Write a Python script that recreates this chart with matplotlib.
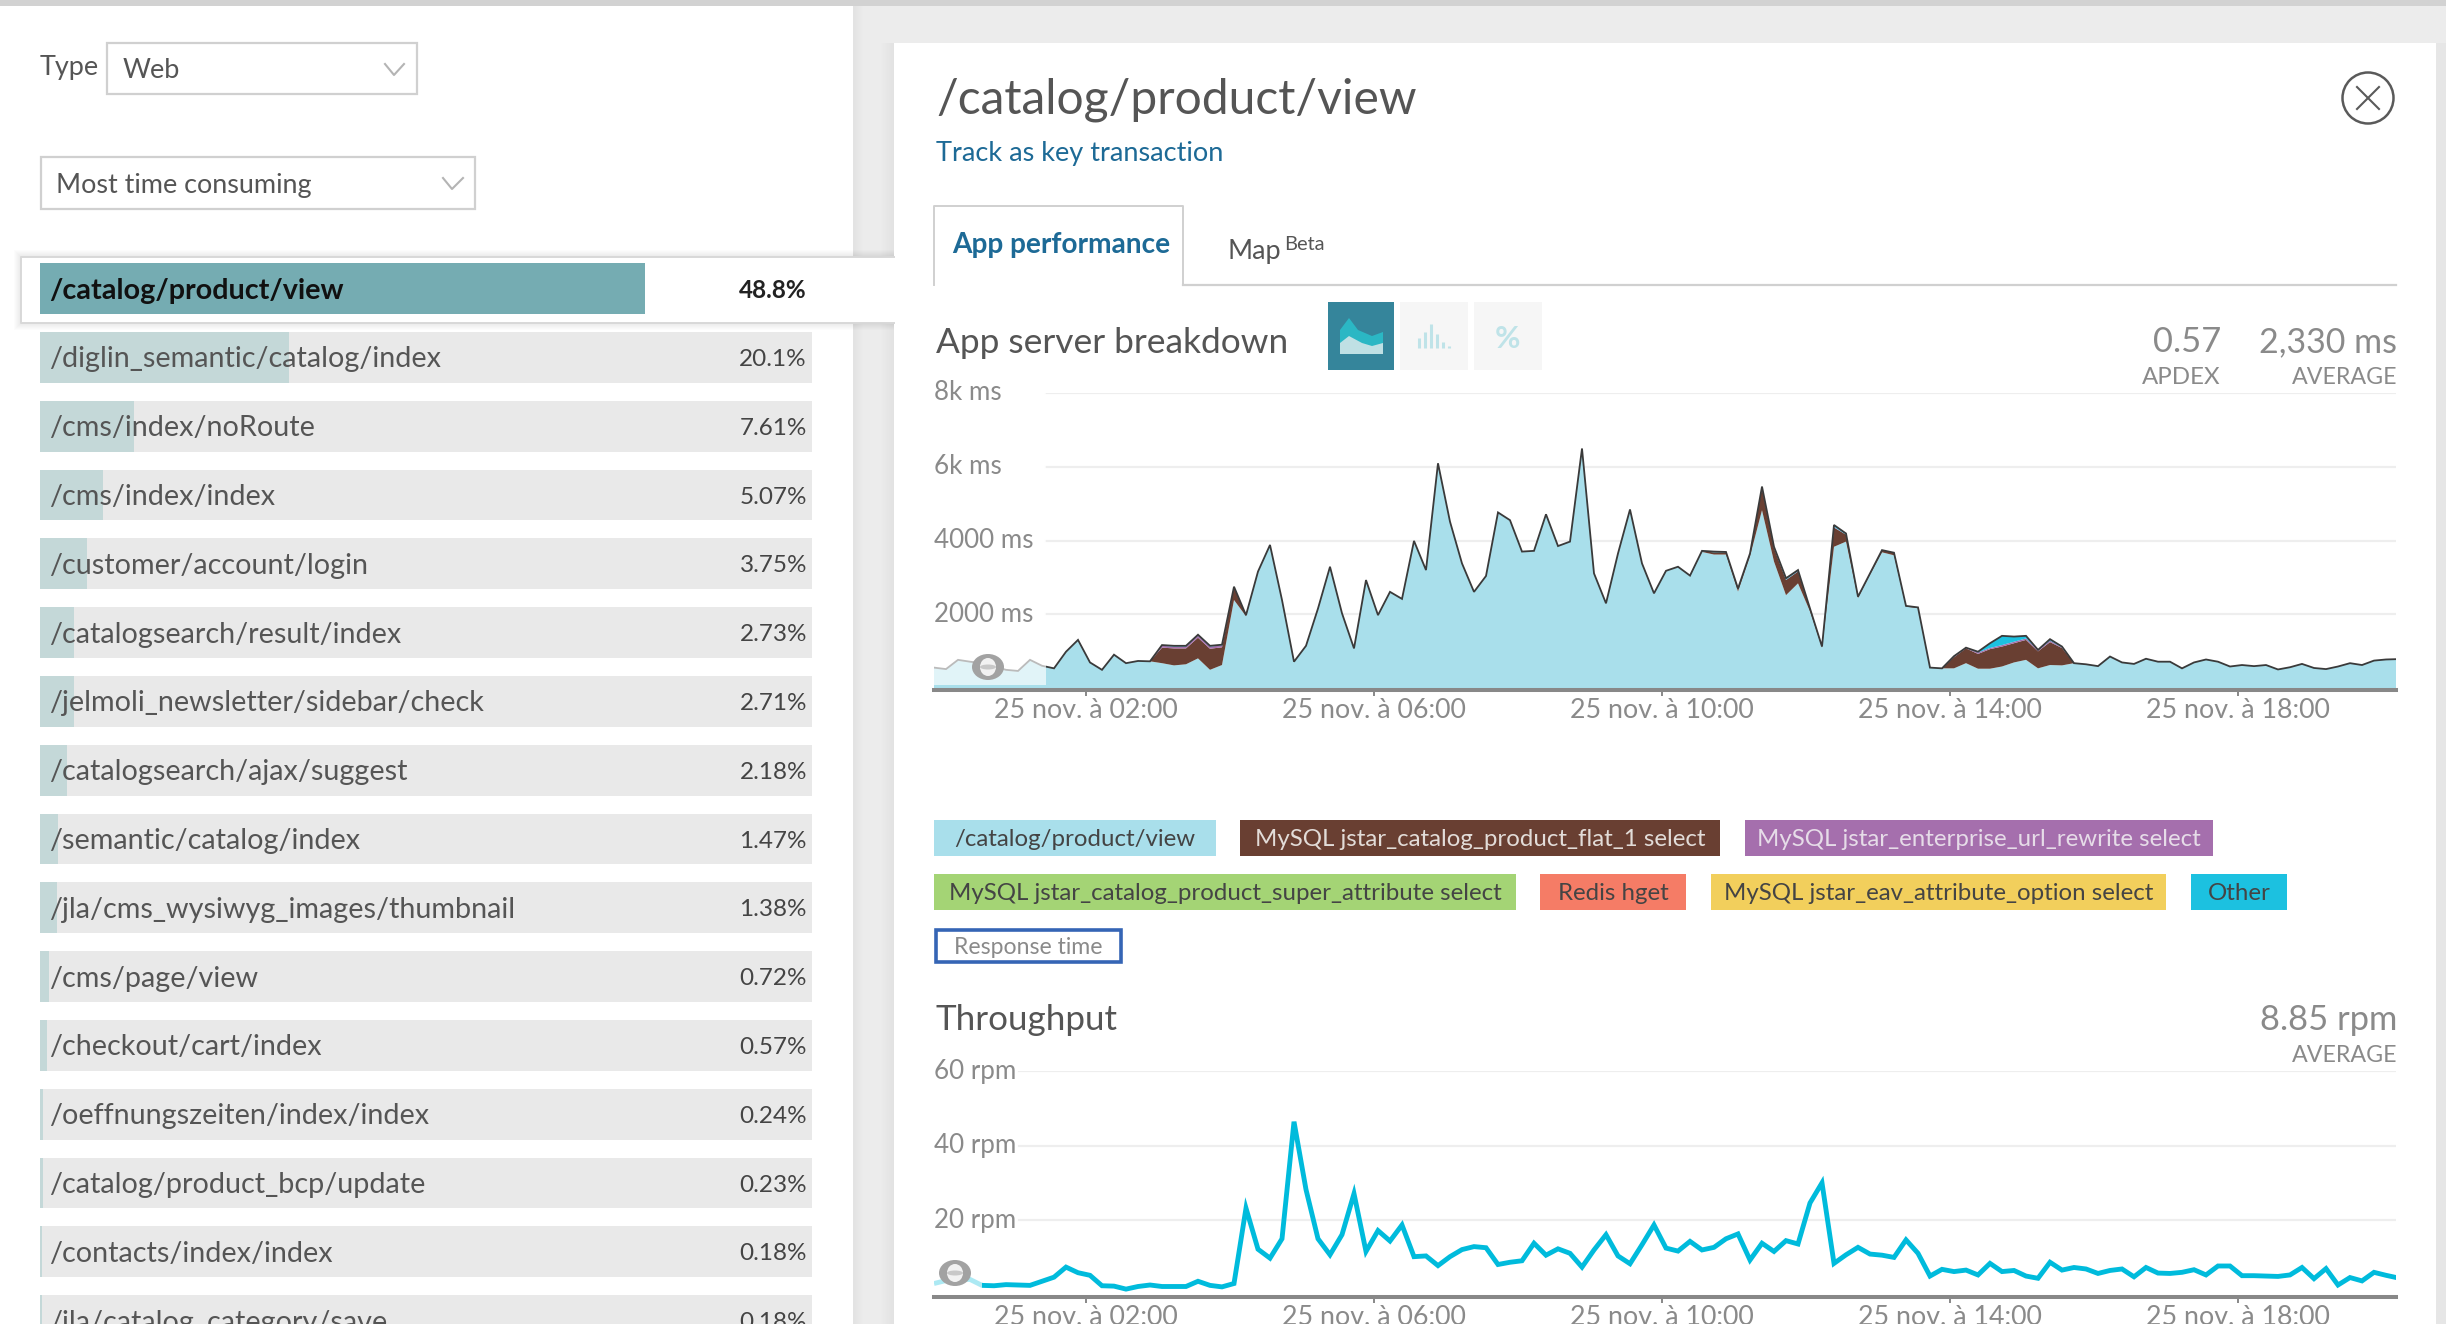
import numpy as np
import matplotlib
matplotlib.use("Agg")
import matplotlib.pyplot as plt
from matplotlib.patches import Rectangle, Ellipse, Circle, Polygon

W, H = 2446, 1324
FONT = ["Lato", "DejaVu Sans"]
plt.rcParams["font.family"] = FONT

# ---------- data ----------
row_labels = ["/catalog/product/view", "/diglin_semantic/catalog/index", "/cms/index/noRoute",
              "/cms/index/index", "/customer/account/login", "/catalogsearch/result/index",
              "/jelmoli_newsletter/sidebar/check", "/catalogsearch/ajax/suggest",
              "/semantic/catalog/index", "/jla/cms_wysiwyg_images/thumbnail", "/cms/page/view",
              "/checkout/cart/index", "/oeffnungszeiten/index/index", "/catalog/product_bcp/update",
              "/contacts/index/index", "/jla/catalog_category/save"]
row_values = [48.8, 20.1, 7.61, 5.07, 3.75, 2.73, 2.71, 2.18, 1.47, 1.38, 0.72, 0.57, 0.24, 0.23, 0.18, 0.18]
row_texts = ["48.8%", "20.1%", "7.61%", "5.07%", "3.75%", "2.73%", "2.71%", "2.18%", "1.47%", "1.38%",
             "0.72%", "0.57%", "0.24%", "0.23%", "0.18%", "0.18%"]

catalog_ms = [560, 520, 770, 720, 680, 590, 500, 470, 770, 610, 540, 990, 1310, 700, 500, 910, 680, 740, 730,
              680, 620, 650, 810, 500, 630, 2390,
              1950, 3160, 3880, 2390, 720, 1150, 2160, 3290, 2030, 1080, 2930, 1980, 2610, 2420, 3990, 3200,
              6090, 4510, 3380, 2610, 3040, 4760, 4550, 3700, 3720, 4710, 3850, 3970, 6490, 3110, 2300, 3650,
              4840, 3380, 2570, 3180, 3290, 3050,
              3690, 3620, 3620, 2620, 3570, 4820, 3430, 2520, 2840, 2080, 1100, 3830, 3970, 2440, 3070, 3680,
              3600, 2210, 2170, 560, 540,
              540, 680, 530, 530, 590, 700, 770, 540, 630, 620,
              680, 650, 600, 860, 700, 660, 800, 720, 720, 540, 700, 780, 720, 590, 630, 600, 630, 510, 570,
              660, 550, 520, 590, 680, 630, 750, 780, 790]
brown_ms = [0] * 19 + [420, 460, 430, 560, 570, 480, 340, 30] + [0] * 37 + \
           [20, 60, 60, 80, 80, 600, 360, 410, 320, 80, 30, 520, 190, 40, 40, 60, 70, 20, 20, 0, 0] + \
           [300, 400, 400, 530, 540, 520, 540, 460, 620, 470] + [0] * 28
purple_ms = [0] * 19 + [50, 50, 50, 60, 60, 50, 10] + [0] * 43 + \
            [20, 10, 10, 10, 0, 0, 20] + [0] * 9 + \
            [20, 10, 40, 30, 40, 40, 40, 30, 40, 20] + [0] * 28
other_ms = [0] * 19 + [20, 20, 20, 20, 20, 20, 10] + [0] * 38 + \
           [10, 20, 10, 0, 0, 20, 30, 40, 30, 0, 0, 50, 30] + [0] * 8 + \
           [10, 10, 20, 130, 250, 140, 70, 10, 40, 20] + [0] * 28

rpm = [3.0, 3.8, 4.1, 4.1, 2.5, 2.4, 2.7, 2.6, 2.5, 3.6, 4.7, 7.4, 5.9, 5.2, 2.4, 2.3, 1.5, 2.2, 2.6, 2.2,
       2.2, 2.2, 3.6, 2.5, 2.1, 3.0, 23.2, 12.2, 9.8, 15.0, 46.4, 28.2, 15.0, 10.7, 16.1, 27.1, 11.6, 17.2,
       14.4, 18.7, 10.2, 10.4, 7.8, 10.2, 12.1, 12.9, 12.6, 8.1, 8.7, 9.1, 13.8, 10.6, 12.3, 11.1, 7.4, 12.0,
       16.1, 10.4, 8.3, 13.4, 18.7, 12.5, 11.7, 14.3, 12.0, 12.7, 15.0, 16.3, 9.3, 13.8, 11.6, 14.5, 13.6,
       24.6, 30.0, 8.4, 10.7, 12.7, 10.9, 10.6, 10.0, 14.7, 11.1, 5.0, 6.8, 6.2, 6.6, 5.3, 8.4, 6.2, 6.5,
       5.0, 4.4, 8.7, 6.6, 7.3, 6.9, 5.7, 6.5, 6.9, 4.8, 7.3, 5.8, 5.7, 6.0, 6.7, 5.3, 7.7, 7.7, 5.1, 5.1,
       5.0, 4.9, 5.3, 7.3, 4.3, 7.0, 2.6, 4.6, 3.7, 6.0, 5.2, 4.5]

tick_hours = [2, 6, 10, 14, 18]
tick_labels = ["25 nov. à 02:00", "25 nov. à 06:00", "25 nov. à 10:00", "25 nov. à 14:00", "25 nov. à 18:00"]
ms_ticks = [2000, 4000, 6000, 8000]
ms_tick_labels = ["2000 ms", "4000 ms", "6k ms", "8k ms"]
rpm_ticks = [20, 40, 60]
rpm_tick_labels = ["20 rpm", "40 rpm", "60 rpm"]

legend_rows = [("/catalog/product/view", "#a9dfeb", "#444444", 934, 1216, 820),
               ("MySQL jstar_catalog_product_flat_1 select", "#693f32", "#e2dcd8", 1240, 1720, 820),
               ("MySQL jstar_enterprise_url_rewrite select", "#a56fad", "#e6dce8", 1745, 2213, 820),
               ("MySQL jstar_catalog_product_super_attribute select", "#a4d475", "#444444", 934, 1516, 874),
               ("Redis hget", "#f57c66", "#444444", 1540, 1686, 874),
               ("MySQL jstar_eav_attribute_option select", "#f2cf5c", "#444444", 1711, 2166, 874),
               ("Other", "#1cc1e0", "#444444", 2191, 2287, 874)]

hours = -0.107 + np.arange(len(catalog_ms)) / 6.0
assert len(catalog_ms) == len(brown_ms) == len(purple_ms) == len(other_ms) == len(rpm) == 123

fig = plt.figure(figsize=(W / 100, H / 100), dpi=100, facecolor="#ffffff")


def px_axes(x0, y0, x1, y1, **kw):
    return fig.add_axes([x0 / W, 1 - y1 / H, (x1 - x0) / W, (y1 - y0) / H], **kw)


# ---------- background chrome ----------
bg = px_axes(0, 0, W, H, zorder=0)
bg.set_xlim(0, W); bg.set_ylim(H, 0); bg.axis("off")


def rect(a, x0, y0, x1, y1, fc="none", ec="none", lw=0, **kw):
    a.add_patch(Rectangle((x0, y0), x1 - x0, y1 - y0, facecolor=fc, edgecolor=ec, linewidth=lw, **kw))


def T(a, x, y, s, px, color="#555555", ha="left", weight="normal", va="center"):
    a.text(x, y, s, fontsize=px * 0.72, color=color, ha=ha, va=va, fontweight=weight, family=FONT)


rect(bg, 0, 0, W, H, fc="#ffffff")
rect(bg, 853, 0, W, H, fc="#ececec")
for k in range(10):
    rect(bg, 853 + k, 0, 854 + k, H, fc="#e2e2e2", alpha=0.9 - k * 0.09)
for k in range(14):
    rect(bg, 880 + k, 43, 881 + k, H, fc="#dddddd", alpha=k * 0.05)
rect(bg, 894, 43, 2436, H, fc="#ffffff")
rect(bg, 0, 0, W, 6, fc="#d2d2d2")
rect(bg, 2436, 43, 2446, H, fc="#e6e6e6")

# dropdowns
T(bg, 40, 68, "Type", 27, "#555555")
rect(bg, 107, 43, 417, 94, fc="#ffffff", ec="#d0d0d0", lw=1.6)
T(bg, 123, 70, "Web", 27)
bg.plot([385, 394, 404], [64, 75, 64], color="#b4b4b4", lw=1.5)
rect(bg, 41, 157, 475, 209, fc="#ffffff", ec="#d0d0d0", lw=1.6)
T(bg, 56, 185, "Most time consuming", 27)
bg.plot([443, 452, 463], [178, 189, 178], color="#b4b4b4", lw=1.5)

# selected card
for k in range(8):
    rect(bg, 21 - k, 257 - k, 894, 323 + k, fc="#000000", alpha=0.012)
rect(bg, 21, 257, 910, 323, fc="#ffffff")
bg.plot([894, 21, 21, 894], [257, 257, 323, 323], color="#d8d8d8", lw=1.4)

# right panel header
T(bg, 936, 100, "/catalog/product/view", 48, "#555555")
T(bg, 936, 153, "Track as key transaction", 27.1, "#1d6a96")
bg.plot([934, 934, 1183, 1183], [285, 206, 206, 285], color="#d0d0d0", lw=1.4)
bg.plot([1183, 2396], [285, 285], color="#d0d0d0", lw=1.6)
T(bg, 952, 245, "App performance", 28, "#1d6a96", weight="bold")
T(bg, 1228, 252, "Map", 27)
T(bg, 1284, 244, "Beta", 20)
bg.add_patch(Circle((2368, 98), 25.5, facecolor="none", edgecolor="#5a5a5a", linewidth=1.8))
bg.plot([2357, 2379], [87, 109], color="#5a5a5a", lw=1.5)
bg.plot([2379, 2357], [87, 109], color="#5a5a5a", lw=1.5)

# chart header
T(bg, 936, 343, "App server breakdown", 35.2, "#555555")
rect(bg, 1328, 302, 1394, 370, fc="#35859b")
rect(bg, 1400, 302, 1468, 370, fc="#f6f6f6")
rect(bg, 1474, 302, 1542, 370, fc="#f6f6f6")
bg.add_patch(Polygon([(1340, 354), (1340, 330), (1349, 318), (1358, 330), (1372, 336), (1383, 332), (1383, 354)],
                     facecolor="#2bb7c4"))
bg.add_patch(Polygon([(1340, 354), (1340, 343), (1349, 336), (1362, 343), (1372, 346), (1383, 343), (1383, 354)],
                     facecolor="#bfe0e4"))
bg.vlines([1419, 1425, 1431, 1437, 1443, 1449], [338, 332, 324, 334, 342, 346], 348, color="#bfe3e8", lw=2.2)
T(bg, 1508, 339, "%", 31, "#bfe3e8", ha="center", weight="bold")
T(bg, 2221, 342, "0.57", 34.5, "#8a8a8a", ha="right")
T(bg, 2397, 342, "2,330 ms", 34, "#8a8a8a", ha="right")
T(bg, 2221, 377, "APDEX", 24, "#8a8a8a", ha="right")
T(bg, 2397, 377, "AVERAGE", 23.3, "#8a8a8a", ha="right")

# legend
for name, fc, tc, x0, x1, y0 in legend_rows:
    rect(bg, x0, y0, x1, y0 + 36, fc=fc)
    T(bg, (x0 + x1) / 2, y0 + 20, name, 24, tc, ha="center")
rect(bg, 936, 930, 1120.5, 962, fc="#ffffff", ec="#3565b5", lw=2.6)
T(bg, 1028, 948, "Response time", 23, "#8a8a8a", ha="center")

T(bg, 936, 1020, "Throughput", 35, "#555555")
T(bg, 2397, 1020, "8.85 rpm", 34.5, "#8a8a8a", ha="right")
T(bg, 2397, 1055, "AVERAGE", 23.3, "#8a8a8a", ha="right")

# ---------- left list ----------
row_top = 288.6
pitch = 68.8
px_per_pct = 12.4
bx = px_axes(40, 0, 812, H, zorder=2)
bx.patch.set_alpha(0)
bx.set_xlim(0, 772 / px_per_pct)
bx.set_ylim((H - row_top) / pitch, -row_top / pitch)
bx.axis("off")
rows = np.arange(len(row_values))
bx.barh(rows[1:], [772 / px_per_pct] * (len(rows) - 1), height=0.74, color="#e9e9e9")
bx.barh(rows[1:], row_values[1:], height=0.74, color="#c4d8d8")
bx.barh(rows[:1], row_values[:1], height=0.74, color="#75acb2")
for r, lab, txt in zip(rows, row_labels, row_texts):
    sel = r == 0
    bx.text(9 / px_per_pct, r + 0.03, lab, fontsize=28.8 * 0.72, va="center", ha="left",
            color="#111111" if sel else "#555555", fontweight="bold" if sel else "normal")
    bx.text(767 / px_per_pct, r + 0.03, txt, fontsize=24.3 * 0.72, va="center", ha="right",
            color="#222222" if sel else "#444444", fontweight="bold" if sel else "normal")


# ---------- charts ----------
def style_chart(ax, yticks, ylabels, grid_x0):
    ax.set_xlim(-0.107, -0.107 + (2396 - 934) / 72)
    ax.patch.set_alpha(0)
    for s in ("top", "left", "right"):
        ax.spines[s].set_visible(False)
    ax.spines["bottom"].set_color("#888888")
    ax.spines["bottom"].set_linewidth(2.9)
    ax.spines["bottom"].set_position(("outward", 1.3))
    ax.set_xticks(tick_hours)
    ax.set_xticklabels(tick_labels, fontsize=26.8 * 0.72, color="#8a8a8a")
    ax.tick_params(axis="x", length=4.5, width=1.4, color="#888888", pad=1.5)
    ax.set_yticks([])
    frac0 = (grid_x0 - 934) / (2396 - 934)
    for v, lab in zip(yticks, ylabels):
        ax.axhline(v, xmin=frac0, xmax=1, color="#eeeeee", lw=1.6, zorder=0)
        ax.annotate(lab, (0, v), xycoords=("axes fraction", "data"), fontsize=26 * 0.72,
                    color="#8a8a8a", ha="left", va="center", zorder=6)


a1 = px_axes(934, 392.7, 2396, 688.3, zorder=3)
a1.set_ylim(0, 8000)
style_chart(a1, ms_ticks, ms_tick_labels, 1046)
a1.stackplot(hours, catalog_ms, brown_ms, purple_ms, other_ms,
             colors=["#a9dfeb", "#693f32", "#a56fad", "#1cc1e0"], linewidth=0, zorder=2)
response = np.sum([catalog_ms, brown_ms, purple_ms, other_ms], axis=0)
a1.plot(hours, response, color="#3a3a3a", lw=1.3, zorder=3, solid_joinstyle="miter")
a1.axvspan(-0.107, 1.449, ymin=0.012, ymax=1, facecolor="#ffffff", alpha=0.66, edgecolor="none", zorder=4)

a2 = px_axes(934, 1071, 2396, 1294.7, zorder=3)
a2.set_ylim(0, 60)
style_chart(a2, rpm_ticks, rpm_tick_labels, 1019)
a2.plot(hours, rpm, color="#00bbdc", lw=3.5, zorder=3, solid_joinstyle="miter", solid_capstyle="butt")
a2.axvspan(-0.107, 0.56, facecolor="#ffffff", alpha=0.68, edgecolor="none", zorder=4)

# ---------- range handles ----------
ov = px_axes(0, 0, W, H, zorder=6)
ov.set_xlim(0, W); ov.set_ylim(H, 0); ov.axis("off"); ov.patch.set_alpha(0)
for cx, cy in [(988, 667), (955, 1273)]:
    ov.add_patch(Ellipse((cx, cy), 32, 26, facecolor="#a2a2a2", edgecolor="none"))
    ov.add_patch(Ellipse((cx, cy), 16, 18, facecolor="#f2f2f2", edgecolor="none"))
    ov.add_patch(Ellipse((cx, cy), 16, 5, facecolor="#c8c8c8", edgecolor="none"))

fig.savefig("out.png", dpi=100)
